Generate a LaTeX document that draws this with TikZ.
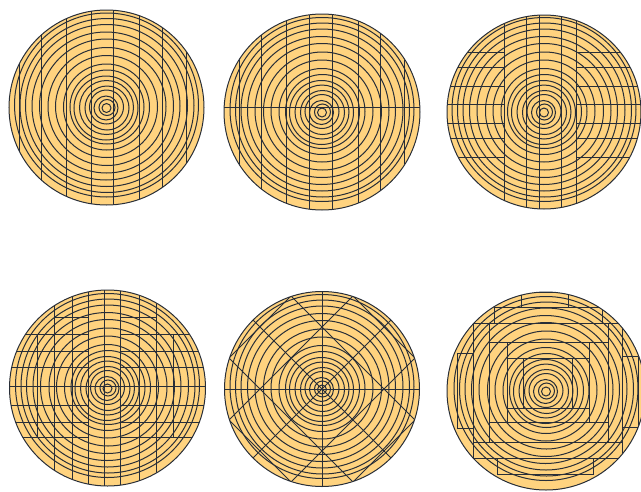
\documentclass[tikz,border=0pt]{standalone}
\begin{document}
\definecolor{wood}{RGB}{255,211,127}
\definecolor{ink}{RGB}{40,46,56}
\tikzset{
  ring/.style={draw=ink, line width=1pt},
  cut/.style={draw=ink, line width=1pt},
  rim/.style={draw=ink, line width=1pt}
}
\newcommand\woodlog[4]{%
  \fill[wood] (#1,#2) circle (#3pt);
  \begin{scope}
    \clip (#1,#2) circle (#3pt);
    \begin{scope}[shift={(#1,#2)}]
      \foreach \r/\dx/\dy in {4.5/0/0.5, 8/0.5/0, 12/-0.5/0.5, 17/0/-0.5, 22/0.5/0.5, 27/0/0, 32/-0.5/0.5, 37/0.5/-0.5, 43/0/-0.5, 51/0/-1, 59/0.5/-1, 67/0/-1.5, 74/-0.5/-1.5, 81/0/-2, 87/0.5/-2, 92/0/-2.5}
        {\draw[ring] (\dx,\dy) circle (\r pt);}
    \end{scope}
    #4
  \end{scope}
  \draw[rim] (#1,#2) circle (#3pt);}
\begin{tikzpicture}[x=1pt,y=-1pt]
\useasboundingbox (0,0) rectangle (641,491);
% log 1
\woodlog{106.5}{107.5}{97.5}{%
  \foreach \x in {19,41,66,91,113,139,162,186} {\draw[cut] (\x,0)--(\x,220);}
}
% log 2
\woodlog{322}{112}{98}{%
  \foreach \x in {239,261,286,309,332,358,380,404} {\draw[cut] (\x,0)--(\x,220);}
  \draw[cut] (215,107)--(430,107);
}
% log 3
\woodlog{544}{112}{97}{%
  \foreach \x in {504,526,539,561,576} {\draw[cut] (\x,0)--(\x,220);}
  \foreach \y in {52,67,86,104,123,138,157} {\draw[cut] (430,\y)--(504,\y) (576,\y)--(660,\y);}
}
% log 4
\woodlog{107.5}{388}{98}{%
  \foreach \x in {54,72,88,104,120,139,156} {\draw[cut] (\x,280)--(\x,500);}
  \draw[cut] (37,334)--(37,438) (173,334)--(173,438);
  \foreach \y in {334,351,367,405,422,437} {\draw[cut] (0,\y)--(88,\y) (120,\y)--(220,\y);}
  \draw[cut] (0,386)--(220,386);
  \draw[cut] (54,317)--(88,317) (120,317)--(156,317);
}
% log 5
\woodlog{322}{389}{97.5}{%
  \begin{scope}[shift={(322,389)}]
    \draw[cut] (0,-110)--(0,110) (-110,0)--(110,0);
    \foreach \d in {-124,-62,0,62,124} {
      \draw[cut] (\d-150,-150)--(\d+150,150) (\d-150,150)--(\d+150,-150);
    }
  \end{scope}
}
% log 6
\woodlog{546}{391}{99}{%
  \draw[cut] (521,292) rectangle (568,307);
  \draw[cut] (494,307) rectangle (602,323);
  \draw[cut] (473,323) rectangle (622,458);
  \draw[cut] (473,442)--(622,442);
  \draw[cut] (489,323)--(489,442) (608,323)--(608,442);
  \draw[cut] (489,342)--(608,342) (489,422)--(608,422);
  \draw[cut] (507,342)--(507,422) (589,342)--(589,422);
  \draw[cut] (507,358)--(589,358) (507,408)--(589,408);
  \draw[cut] (523,358)--(523,408) (572,358)--(572,408);
  \draw[cut] (457,353) rectangle (473,428);
  \draw[cut] (622,356) rectangle (638,427);
  \draw[cut] (497,458) rectangle (593,474);
}
\end{tikzpicture}
\end{document}
